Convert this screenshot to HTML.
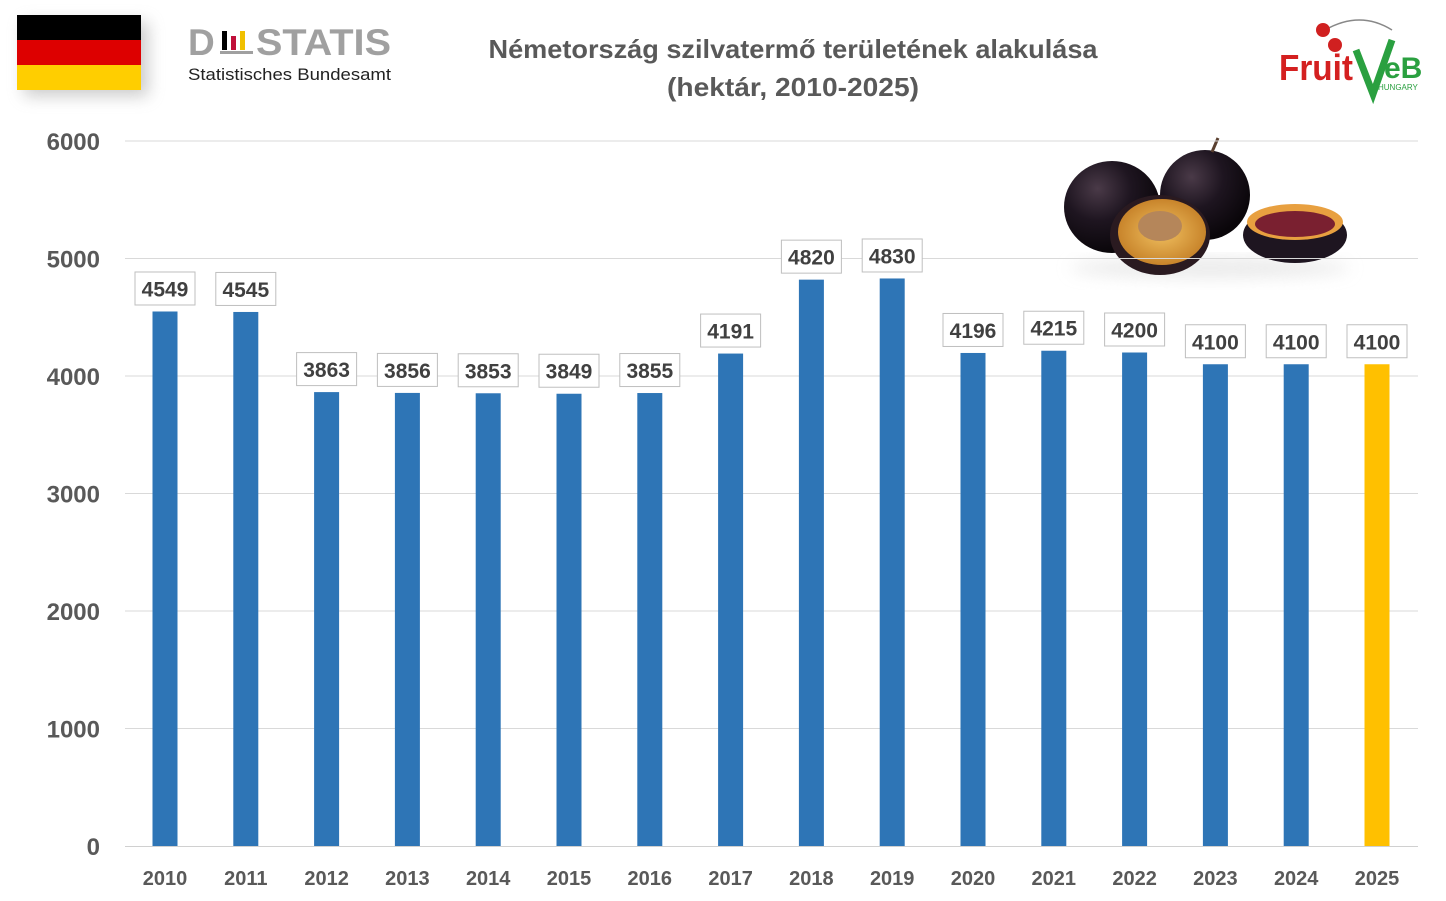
<!DOCTYPE html>
<html><head><meta charset="utf-8"><style>
html,body{margin:0;padding:0;background:#fff;width:1446px;height:901px;overflow:hidden}
svg{display:block;font-family:"Liberation Sans",sans-serif}
</style></head><body>
<svg id="c" width="1446" height="901" viewBox="0 0 1446 901" xmlns="http://www.w3.org/2000/svg">
<defs>
<filter id="sh" x="-30%" y="-30%" width="170%" height="190%"><feGaussianBlur stdDeviation="8"/></filter>
<radialGradient id="pl" cx="35%" cy="30%" r="70%"><stop offset="0" stop-color="#4a3a48"/><stop offset="0.5" stop-color="#1e1520"/><stop offset="1" stop-color="#0a060a"/></radialGradient>
<radialGradient id="fl" cx="50%" cy="50%" r="60%"><stop offset="0" stop-color="#f0c060"/><stop offset="1" stop-color="#c07820"/></radialGradient>
</defs>
<rect x="24" y="22" width="124" height="74" fill="#999" opacity="0.5" filter="url(#sh)"/>
<rect x="17" y="15" width="124" height="25" fill="#000"/>
<rect x="17" y="40" width="124" height="25" fill="#dd0000"/>
<rect x="17" y="65" width="124" height="25" fill="#ffce00"/>
<text x="188" y="55" font-size="37" font-weight="bold" fill="#a0a0a0">D</text>
<rect x="222" y="31" width="5" height="19" fill="#000"/><rect x="231" y="36" width="5" height="14" fill="#c0103a"/><rect x="240" y="31" width="5" height="19" fill="#f0c000"/><rect x="220" y="51" width="33" height="3" fill="#a0a0a0"/>
<text x="256" y="55" font-size="37" font-weight="bold" fill="#a0a0a0" textLength="135" lengthAdjust="spacingAndGlyphs">STATIS</text>
<text x="188" y="80" font-size="17" fill="#222" textLength="203" lengthAdjust="spacingAndGlyphs">Statistisches Bundesamt</text>
<text x="793" y="58" font-size="26" font-weight="bold" fill="#595959" text-anchor="middle" textLength="609" lengthAdjust="spacingAndGlyphs">Németország szilvatermő területének alakulása</text>
<text x="793" y="96" font-size="26" font-weight="bold" fill="#595959" text-anchor="middle" textLength="252" lengthAdjust="spacingAndGlyphs">(hektár, 2010-2025)</text>
<path d="M1325 30 Q1360 10 1392 30" stroke="#888" fill="none" stroke-width="1.5"/>
<circle cx="1323" cy="30" r="7" fill="#d02020"/><circle cx="1335" cy="45" r="7" fill="#d02020"/>
<text x="1279" y="80" font-size="36" font-weight="bold" fill="#d42020" textLength="74" lengthAdjust="spacingAndGlyphs">Fruit</text>
<path d="M1356 50 L1373 94 L1392 40" stroke="#2aa040" stroke-width="7" fill="none"/>
<text x="1384" y="78" font-size="30" font-weight="bold" fill="#2aa040">eB</text>
<text x="1378" y="90" font-size="8" fill="#2aa040">HUNGARY</text>
<ellipse cx="1210" cy="268" rx="140" ry="10" fill="#ddd" opacity="0.6" filter="url(#sh)"/>
<ellipse cx="1112" cy="207" rx="48" ry="46" fill="url(#pl)"/>
<ellipse cx="1205" cy="195" rx="45" ry="45" fill="url(#pl)"/>
<path d="M1212 152 L1218 138" stroke="#5a4030" stroke-width="3"/>
<ellipse cx="1160" cy="235" rx="50" ry="40" fill="#2a1a20"/>
<ellipse cx="1162" cy="232" rx="44" ry="33" fill="url(#fl)"/>
<ellipse cx="1160" cy="226" rx="22" ry="15" fill="#b5865a"/>
<ellipse cx="1295" cy="235" rx="52" ry="28" fill="#1e1520"/>
<ellipse cx="1295" cy="222" rx="48" ry="18" fill="#e8a040"/>
<ellipse cx="1295" cy="224" rx="40" ry="13" fill="#7a2030"/>
<g id="g"></g>
</svg>
<script>
var g=document.getElementById('g'),s='';
var vals=[4549,4545,3863,3856,3853,3849,3855,4191,4820,4830,4196,4215,4200,4100,4100,4100];
for(var i=0;i<=6;i++){var y=846-i*117.5;
 if(i>0)s+='<line x1="125" x2="1418" y1="'+y+'" y2="'+y+'" stroke="#d9d9d9" stroke-width="1"/>';
 s+='<text x="100" y="'+(y+9)+'" font-size="24" font-weight="bold" fill="#595959" text-anchor="end">'+(i*1000)+'</text>';}
s+='<line x1="125" x2="1418" y1="846.5" y2="846.5" stroke="#d0d0d0" stroke-width="1"/>';
for(var i=0;i<16;i++){var x=165+80.8*i,v=vals[i],t=846-v*0.1175;
 s+='<rect x="'+(x-12.5)+'" y="'+t+'" width="25" height="'+(846-t)+'" fill="'+(i==15?'#ffc000':'#2e75b6')+'"/>';
 s+='<rect x="'+(x-30)+'" y="'+(t-39.5)+'" width="60" height="33" fill="#fff" stroke="#bfbfbf" stroke-width="1"/>';
 s+='<text x="'+x+'" y="'+(t-15)+'" font-size="21" font-weight="bold" fill="#404040" text-anchor="middle">'+v+'</text>';
 s+='<text x="'+x+'" y="885" font-size="20" font-weight="bold" fill="#595959" text-anchor="middle">'+(2010+i)+'</text>';}
g.innerHTML=s;
</script>
</body></html>
